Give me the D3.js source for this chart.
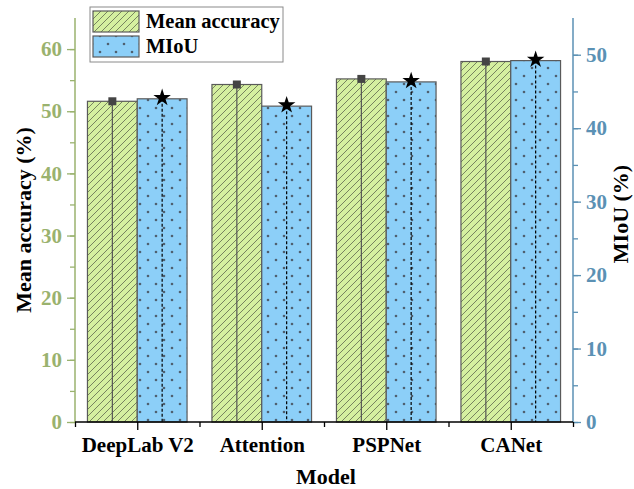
<!DOCTYPE html>
<html>
<head>
<meta charset="utf-8">
<script src="https://cdn.jsdelivr.net/npm/d3@7"></script>
<style>
  body { margin: 0; background: #fff; }
  text { font-family: "Liberation Serif", "Times New Roman", serif; font-weight: bold; }
</style>
</head>
<body>
<figure id="chart" style="margin:0"></figure>
<script>
// data
const models = ["DeepLab V2", "Attention", "PSPNet", "CANet"];
const meanAccuracy = [51.6, 54.3, 55.2, 58.0];
const miou = [44.0, 43.0, 46.3, 49.2];
const leftTicks = [0, 10, 20, 30, 40, 50, 60];
const rightTicks = [0, 10, 20, 30, 40, 50];

const width = 634, height = 489;
const plotL = 75, plotR = 573, plotT = 18, plotB = 422;
const greenFill = "#d5f0a0", blueFill = "#8ccff8";
const greenAxis = "#9ab26e", blueAxis = "#5b91b4";

const svg = d3.select("figure#chart")
  .append("svg")
  .attr("width", width)
  .attr("height", height);

// patterns
const defs = svg.append("defs");
const hatch = defs.append("pattern")
  .attr("id", "hatch")
  .attr("patternUnits", "userSpaceOnUse")
  .attr("width", 7).attr("height", 7);
hatch.append("rect").attr("width", 7).attr("height", 7).attr("fill", greenFill);
hatch.append("path")
  .attr("d", "M-1,1 l2,-2 M0,7 l7,-7 M6,8 l2,-2")
  .attr("stroke", "#6c7858").attr("stroke-width", 0.9);

const dots = defs.append("pattern")
  .attr("id", "dots")
  .attr("patternUnits", "userSpaceOnUse")
  .attr("width", 16).attr("height", 16);
dots.append("rect").attr("width", 16).attr("height", 16).attr("fill", blueFill);
dots.selectAll("circle").data([[4, 4], [12, 12]]).enter()
  .append("circle")
  .attr("cx", d => d[0]).attr("cy", d => d[1]).attr("r", 1.3)
  .attr("fill", "#4f6070");

// scales
const x = d3.scaleLinear().domain([0.5, 4.5]).range([plotL, plotR]);
const yL = d3.scaleLinear().domain([0, 65]).range([plotB, plotT]);
const yR = d3.scaleLinear().domain([0, 55]).range([plotB, plotT]);
const barW = 0.4;

// bars
const g = svg.append("g");
g.selectAll(".acc").data(meanAccuracy).enter()
  .append("rect")
  .attr("x", (d, i) => x(i + 1 - barW))
  .attr("y", d => yL(d))
  .attr("width", x(barW) - x(0))
  .attr("height", d => plotB - yL(d))
  .attr("fill", "url(#hatch)")
  .attr("stroke", "#5a5a5a").attr("stroke-width", 1.2);

g.selectAll(".miou").data(miou).enter()
  .append("rect")
  .attr("x", (d, i) => x(i + 1))
  .attr("y", d => yR(d))
  .attr("width", x(barW) - x(0))
  .attr("height", d => plotB - yR(d))
  .attr("fill", "url(#dots)")
  .attr("stroke", "#5a5a5a").attr("stroke-width", 1.2);

// drop lines and markers
g.selectAll(".accLine").data(meanAccuracy).enter()
  .append("line")
  .attr("x1", (d, i) => x(i + 1 - barW / 2)).attr("x2", (d, i) => x(i + 1 - barW / 2))
  .attr("y1", d => yL(d)).attr("y2", plotB)
  .attr("stroke", "#555").attr("stroke-width", 1.2);

g.selectAll(".miouLine").data(miou).enter()
  .append("line")
  .attr("x1", (d, i) => x(i + 1 + barW / 2)).attr("x2", (d, i) => x(i + 1 + barW / 2))
  .attr("y1", d => yR(d)).attr("y2", plotB)
  .attr("stroke", "#000").attr("stroke-width", 1.2)
  .attr("stroke-dasharray", "3,2");

g.selectAll(".sq").data(meanAccuracy).enter()
  .append("rect")
  .attr("x", (d, i) => x(i + 1 - barW / 2) - 4)
  .attr("y", d => yL(d) - 4)
  .attr("width", 8).attr("height", 8)
  .attr("fill", "#444");

const star = d3.symbol().type(d3.symbolStar).size(95);
g.selectAll(".star").data(miou).enter()
  .append("path")
  .attr("d", star)
  .attr("transform", (d, i) => `translate(${x(i + 1 + barW / 2)},${yR(d) - 1})`)
  .attr("fill", "#000");

// left axis
const axL = svg.append("g").attr("transform", `translate(${plotL},0)`);
axL.call(d3.axisLeft(yL).tickValues(d3.range(0, 65, 5)).tickSize(5).tickFormat(""))
  .call(a => a.select(".domain").remove());
axL.selectAll(".tick line").attr("stroke", greenAxis).attr("stroke-width", 1.3);
axL.append("g").call(d3.axisLeft(yL).tickValues(leftTicks).tickSize(8).tickPadding(5))
  .call(s => s.select(".domain").remove())
  .call(s => s.selectAll(".tick line").attr("stroke", greenAxis).attr("stroke-width", 1.3))
  .call(s => s.selectAll(".tick text").attr("fill", greenAxis).style("font-size", "21px"))
  .attr("font-family", null);
axL.append("line").attr("y1", plotT).attr("y2", plotB)
  .attr("stroke", greenAxis).attr("stroke-width", 1.5);

// right axis
const axR = svg.append("g").attr("transform", `translate(${plotR},0)`);
axR.call(d3.axisRight(yR).tickValues(d3.range(0, 55, 5)).tickSize(5).tickFormat(""))
  .call(a => a.select(".domain").remove());
axR.selectAll(".tick line").attr("stroke", blueAxis).attr("stroke-width", 1.3);
axR.append("g").call(d3.axisRight(yR).tickValues(rightTicks).tickSize(8).tickPadding(5))
  .call(s => s.select(".domain").remove())
  .call(s => s.selectAll(".tick line").attr("stroke", blueAxis).attr("stroke-width", 1.3))
  .call(s => s.selectAll(".tick text").attr("fill", blueAxis).style("font-size", "21px"))
  .attr("font-family", null);
axR.append("line").attr("y1", plotT).attr("y2", plotB)
  .attr("stroke", blueAxis).attr("stroke-width", 1.5);

// bottom axis
const axB = svg.append("g").attr("transform", `translate(0,${plotB})`);
axB.call(d3.axisBottom(x).tickValues([0.5, 1.5, 2.5, 3.5, 4.5]).tickSize(5).tickFormat(""))
  .call(a => a.select(".domain").remove());
axB.append("g").call(d3.axisBottom(x).tickValues([1, 2, 3, 4]).tickSize(8).tickPadding(7)
    .tickFormat(d => models[d - 1]))
  .call(s => s.select(".domain").remove())
  .call(s => s.selectAll(".tick text").attr("fill", "#000").style("font-size", "21px"))
  .attr("font-family", null);
axB.selectAll(".tick line").attr("stroke", "#000").attr("stroke-width", 1.3);
axB.append("line").attr("x1", plotL).attr("x2", plotR)
  .attr("stroke", "#000").attr("stroke-width", 1.5);

// axis titles
svg.append("text")
  .attr("transform", `translate(31,${(plotT + plotB) / 2}) rotate(-90)`)
  .attr("text-anchor", "middle")
  .style("font-size", "22px")
  .text("Mean accuracy (%)");

svg.append("text")
  .attr("transform", `translate(628,${(plotT + plotB) / 2 - 6}) rotate(-90)`)
  .attr("text-anchor", "middle")
  .style("font-size", "22px")
  .text("MIoU (%)");

svg.append("text")
  .attr("x", (plotL + plotR) / 2 + 2).attr("y", 484)
  .attr("text-anchor", "middle")
  .style("font-size", "22px")
  .text("Model");

// legend
const legend = svg.append("g");
legend.append("rect")
  .attr("x", 90).attr("y", 7).attr("width", 193).attr("height", 55)
  .attr("fill", "#fff").attr("stroke", "#8a8a8a").attr("stroke-width", 1);
const items = [["Mean accuracy", "url(#hatch)"], ["MIoU", "url(#dots)"]];
legend.selectAll(".sw").data(items).enter()
  .append("rect")
  .attr("x", 93).attr("y", (d, i) => 11 + i * 25)
  .attr("width", 46).attr("height", 21)
  .attr("fill", d => d[1])
  .attr("stroke", "#5a5a5a").attr("stroke-width", 1.2);
legend.selectAll(".lt").data(items).enter()
  .append("text")
  .attr("x", 146).attr("y", (d, i) => 28 + i * 25)
  .style("font-size", "20.5px")
  .text(d => d[0]);
</script>
</body>
</html>
